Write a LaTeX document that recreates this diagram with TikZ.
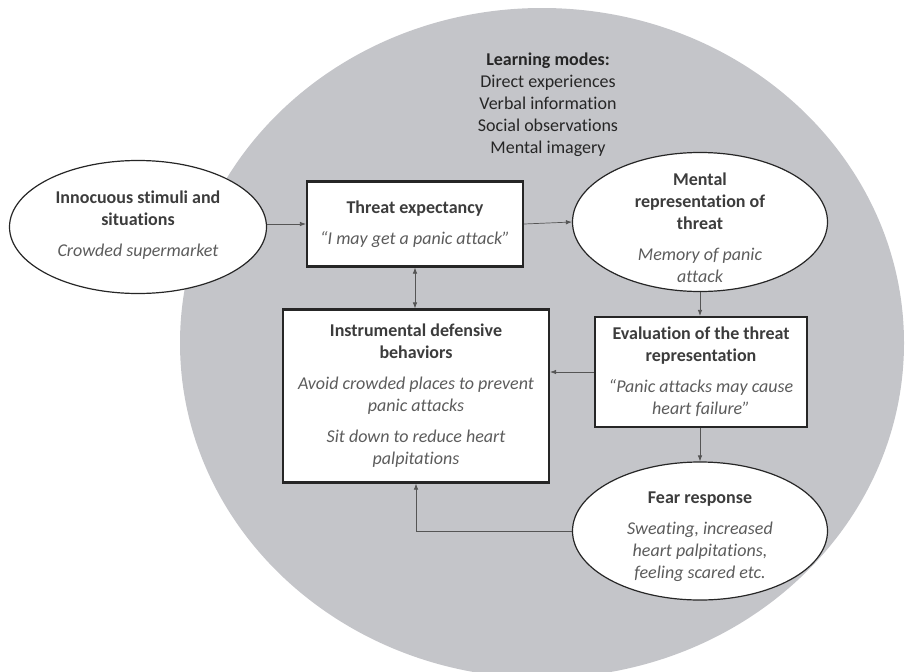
\documentclass[tikz,border=0pt]{standalone}
\usepackage{fontspec}
\setmainfont{Carlito}[Ligatures=NoCommon]
\usetikzlibrary{shapes.geometric,arrows.meta}

\definecolor{circlegray}{RGB}{196,197,201}
\definecolor{headgray}{RGB}{60,60,60}
\definecolor{notegray}{RGB}{92,92,92}
\definecolor{linegray}{RGB}{85,85,85}

\newcommand{\hd}[1]{\textbf{#1}}
\newcommand{\nt}[1]{\textcolor{notegray}{\itshape #1}}

\tikzset{
  txt/.style={align=center, text=headgray, inner sep=0pt,
    font=\fontsize{18}{22}\selectfont},
  box/.style={txt, draw=black!85, line width=2.2pt, fill=white},
  oval/.style={ellipse, draw=black!85, line width=1.2pt, fill=white, inner sep=0pt},
  link/.style={draw=linegray, line width=0.7pt, -{Latex[length=6pt,width=4.5pt]}},
}

\begin{document}
\begin{tikzpicture}[x=1pt,y=-1pt]
    \useasboundingbox (0,0) rectangle (905,672);
    \fill[circlegray] (542,343) ellipse [x radius=362pt, y radius=335pt];

    \node[txt, text=black!85] (modes) at (548,105)
        {\hd{Learning modes:}\\Direct experiences\\Verbal information\\Social observations\\Mental imagery};

    \node[oval, minimum width=257, minimum height=133] (stimuli) at (138,227) {};
    \node[txt] (stimulitxt) at (138,225)
        {\hd{Innocuous stimuli and}\\\hd{situations}\\[9pt]\nt{Crowded supermarket}};

    \node[box, minimum width=216, minimum height=85] (expect) at (415,224)
        {\hd{Threat expectancy}\\[9pt]\nt{“I may get a panic attack”}};

    \node[oval, minimum width=255, minimum height=139] (mental) at (700,222) {};
    \node[txt] (mentaltxt) at (700,228)
        {\hd{Mental}\\\hd{representation of}\\\hd{threat}\\[9pt]\nt{Memory of panic}\\\nt{attack}};

    \node[box, minimum width=212, minimum height=110] (evaluate) at (701,372)
        {\hd{Evaluation of the threat}\\\hd{representation}\\[9pt]\nt{“Panic attacks may cause}\\\nt{heart failure”}};

    \node[box, minimum width=266, minimum height=173] (defense) at (416,396)
        {\hd{Instrumental defensive}\\\hd{behaviors}\\[9pt]\nt{Avoid crowded places to prevent}\\\nt{panic attacks}\\[9pt]\nt{Sit down to reduce heart}\\\nt{palpitations}};

    \node[oval, minimum width=255, minimum height=138] (fear) at (700,531) {};
    \node[txt] (feartxt) at (700,537)
        {\hd{Fear response}\\[9pt]\nt{Sweating, increased}\\\nt{heart palpitations,}\\\nt{feeling scared etc.}};

    % connectors
    \draw[link] (expect.west -| stimuli.east) -- (expect.west);
    \draw[link] (expect.east) -- (mental.west);
    \draw[link, {Latex[length=6pt,width=4.5pt]}-{Latex[length=6pt,width=4.5pt]}] (expect.south) -- (defense.north -| expect.south);
    \draw[link] (mental.south) -- (evaluate.north -| mental.south);
    \draw[link] (evaluate.west) -- (evaluate.west -| defense.east);
    \draw[link] (evaluate.south -| fear.north) -- (fear.north);
    \draw[link] (fear.west) -| (defense.south);
\end{tikzpicture}
\end{document}
